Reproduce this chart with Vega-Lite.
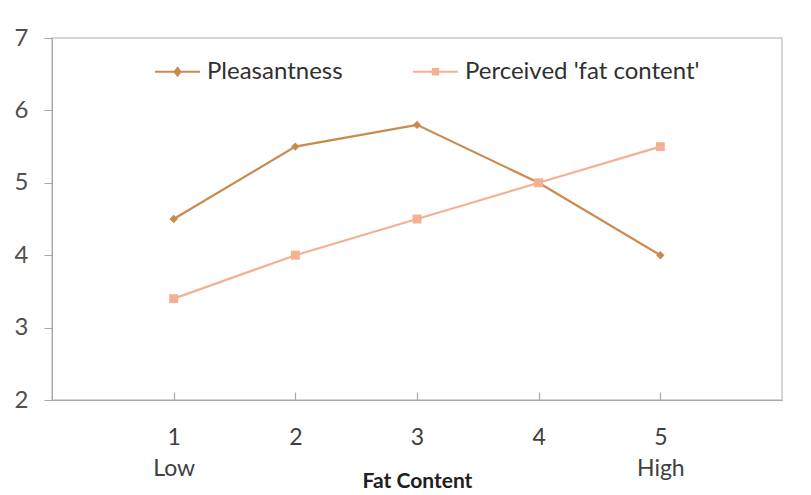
{
  "$schema": "https://vega.github.io/schema/vega-lite/v6.json",
  "width": 730,
  "height": 362,
  "autosize": {"type": "none"},
  "padding": {"left": 52, "top": 38, "right": 29, "bottom": 95},
  "background": "white",
  "config": {
    "font": "Lato",
    "view": {"stroke": "#c8c8c8", "strokeWidth": 1.5},
    "axis": {"grid": false, "domainColor": "#a8a8a8", "tickColor": "#a8a8a8", "labelColor": "#404040", "labelFont": "Lato", "titleFont": "Lato"}
  },
  "data": {
    "values": [
      {"fat": 1, "series": "Pleasantness", "score": 4.5},
      {"fat": 2, "series": "Pleasantness", "score": 5.5},
      {"fat": 3, "series": "Pleasantness", "score": 5.8},
      {"fat": 4, "series": "Pleasantness", "score": 5.0},
      {"fat": 5, "series": "Pleasantness", "score": 4.0},
      {"fat": 1, "series": "Perceived 'fat content'", "score": 3.4},
      {"fat": 2, "series": "Perceived 'fat content'", "score": 4.0},
      {"fat": 3, "series": "Perceived 'fat content'", "score": 4.5},
      {"fat": 4, "series": "Perceived 'fat content'", "score": 5.0},
      {"fat": 5, "series": "Perceived 'fat content'", "score": 5.5}
    ]
  },
  "encoding": {
    "x": {
      "field": "fat", "type": "quantitative",
      "scale": {"domain": [0, 6], "nice": false, "zero": false},
      "axis": {
        "values": [1, 2, 3, 4, 5],
        "title": "Fat Content",
        "titleFontWeight": "bold",
        "titleFontSize": 21,
        "titleColor": "#202020",
        "titlePadding": -10,
        "labelFontSize": 23,
        "labelLineHeight": 31,
        "labelPadding": 34,
        "ticks": true,
        "tickSize": -8,
        "tickWidth": 1.2,
        "labelExpr": "datum.value == 1 ? ['1', 'Low'] : datum.value == 5 ? ['5', 'High'] : datum.label"
      }
    },
    "y": {
      "field": "score", "type": "quantitative",
      "scale": {"domain": [2, 7], "nice": false, "zero": false},
      "axis": {"values": [2, 3, 4, 5, 6, 7], "title": null, "labelFontSize": 24, "labelColor": "#505050", "tickSize": 8, "labelPadding": 16}
    },
    "color": {
      "field": "series", "type": "nominal",
      "scale": {"domain": ["Pleasantness", "Perceived 'fat content'"], "range": ["#c98a4e", "#f2b192"]},
      "legend": {
        "orient": "none",
        "legendX": 102,
        "legendY": 10,
        "direction": "horizontal",
        "title": null,
        "labelFontSize": 24,
        "labelColor": "#303030",
        "labelLimit": 400,
        "symbolType": "M-1,0L1,0M-0.13,0L0,-0.17L0.13,0L0,0.17Z",
        "symbolSize": 2025,
        "symbolStrokeWidth": 2,
        "columnPadding": 66,
        "labelOffset": 6,
        "encode": {
          "symbols": {
            "update": {
              "shape": {"signal": "datum.value == 'Pleasantness' ? 'M-1,0L1,0M-0.13,0L0,-0.17L0.13,0L0,0.17Z' : 'M-1,0L1,0M-0.12,-0.12L0.12,-0.12L0.12,0.12L-0.12,0.12Z'"},
              "stroke": {"scale": "color", "field": "value"},
              "fill": {"scale": "color", "field": "value"},
              "opacity": {"value": 1}
            }
          }
        }
      }
    }
  },
  "layer": [
    {
      "mark": {"type": "line", "strokeWidth": 2.2}
    },
    {
      "transform": [{"filter": "datum.series == 'Pleasantness'"}],
      "mark": {"type": "point", "filled": true, "opacity": 1, "size": 70, "shape": "diamond"}
    },
    {
      "transform": [{"filter": "datum.series != 'Pleasantness'"}],
      "mark": {"type": "point", "filled": true, "opacity": 1, "size": 80, "shape": "square"}
    }
  ]
}
